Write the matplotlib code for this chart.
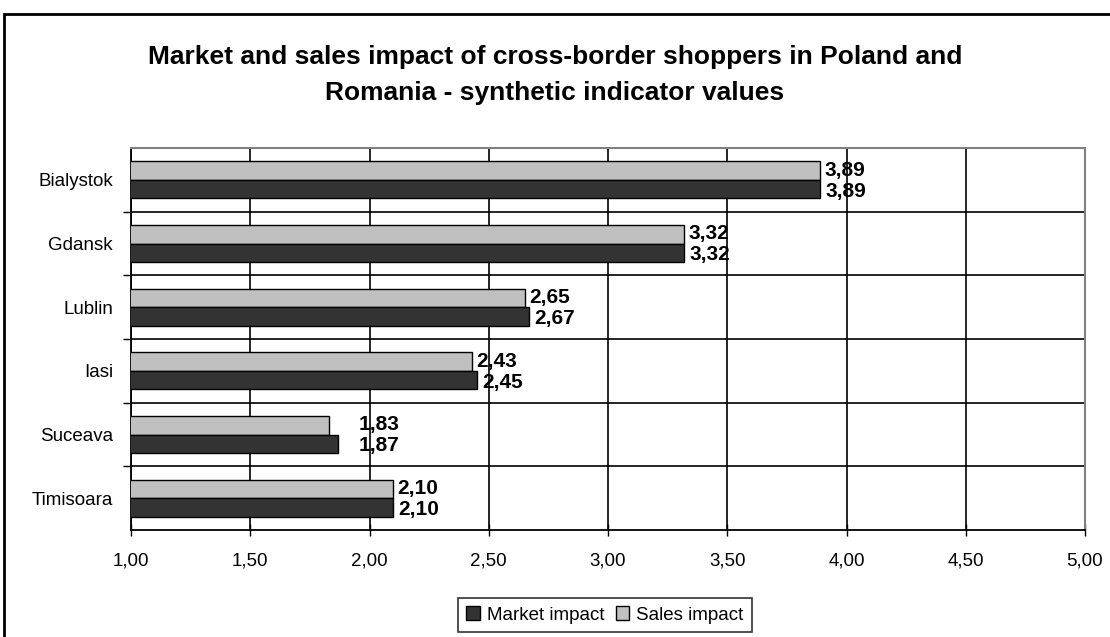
import matplotlib
matplotlib.use("Agg")
import matplotlib.pyplot as plt
from matplotlib.patches import Rectangle, Patch

plt.rcParams['font.family'] = ['Liberation Sans', 'DejaVu Sans']

categories = ["Bialystok", "Gdansk", "Lublin", "Iasi", "Suceava", "Timisoara"]
market_impact = [3.89, 3.32, 2.67, 2.45, 1.87, 2.10]
sales_impact = [3.89, 3.32, 2.65, 2.43, 1.83, 2.10]
x_ticks = [1.0, 1.5, 2.0, 2.5, 3.0, 3.5, 4.0, 4.5, 5.0]
title = "Market and sales impact of cross-border shoppers in Poland and\nRomania - synthetic indicator values"

# label positions shifted as in the original (Suceava labels sit further right)
label_x_override = {"Suceava": 1.955}

W, H = 1110, 637
fig = plt.figure(figsize=(W / 100, H / 100), dpi=100)
fig.patch.set_facecolor("white")

# outer chart border (extends past right/bottom edges)
fig.patches.append(Rectangle((4 / W, -0.1), 1.2, 1 - 14 / H + 0.1, transform=fig.transFigure,
                             fill=False, edgecolor="black", linewidth=2.0, zorder=0))

ax = fig.add_axes([131 / W, 1 - 530 / H, (1085 - 131) / W, (530 - 148) / H])

n = len(categories)
ypos = list(range(n))
bh = 0.29
dark = "#333333"
light = "#c0c0c0"

ax.barh([y - bh / 2 for y in ypos], sales_impact, height=bh, left=0, color=light,
        edgecolor="black", linewidth=1.0, zorder=3)
ax.barh([y + bh / 2 for y in ypos], market_impact, height=bh, left=0, color=dark,
        edgecolor="black", linewidth=1.0, zorder=3)

for i, cat in enumerate(categories):
    xs = label_x_override.get(cat, sales_impact[i] + 0.018)
    xm = label_x_override.get(cat, market_impact[i] + 0.022)
    ax.text(xs, i - bh / 2 - 0.005, f"{sales_impact[i]:.2f}".replace(".", ","), ha="left", va="center",
            fontsize=15, fontweight="bold", zorder=5)
    ax.text(xm, i + bh / 2 + 0.035, f"{market_impact[i]:.2f}".replace(".", ","), ha="left", va="center",
            fontsize=15, fontweight="bold", zorder=5)

ax.set_xlim(x_ticks[0], x_ticks[-1])
ax.set_ylim(n - 0.5, -0.5)

ax.set_xticks(x_ticks)
ax.set_xticklabels([f"{v:.2f}".replace(".", ",") for v in x_ticks], fontsize=13.5)
ax.tick_params(axis="x", direction="inout", length=8, width=1, pad=12, colors="black")

ax.set_yticks(ypos)
ax.set_yticklabels(categories, fontsize=13.5)
ax.tick_params(axis="y", which="major", length=0, pad=13)
ax.set_yticks([y + 0.5 for y in ypos[:-1]], minor=True)
ax.tick_params(axis="y", which="minor", direction="out", length=6, width=1)

ax.grid(axis="x", which="major", color="black", linewidth=1.2, zorder=1)
ax.grid(axis="y", which="minor", color="black", linewidth=1.2, zorder=1)
ax.set_axisbelow(True)

for s in ["left", "bottom"]:
    ax.spines[s].set_color("black")
    ax.spines[s].set_linewidth(1.3)
for s in ["top", "right"]:
    ax.spines[s].set_color("#808080")
    ax.spines[s].set_linewidth(1.5)

fig.text(0.5, 1 - 75 / H, title, ha="center", va="center", fontsize=19, fontweight="bold",
         linespacing=1.62)

handles = [Patch(facecolor=dark, edgecolor="black", label="Market impact"),
           Patch(facecolor=light, edgecolor="black", label="Sales impact")]
leg = fig.legend(handles=handles, loc="upper left", bbox_to_anchor=(458 / W, 1 - 598 / H),
                 ncol=2, fontsize=13.5, frameon=True, fancybox=False, handlelength=0.7,
                 handleheight=0.7, handletextpad=0.4, columnspacing=0.6, borderpad=0.45,
                 borderaxespad=0)
leg.get_frame().set_edgecolor("black")
leg.get_frame().set_linewidth(1.2)

fig.savefig("out.png", dpi=100, facecolor="white")
